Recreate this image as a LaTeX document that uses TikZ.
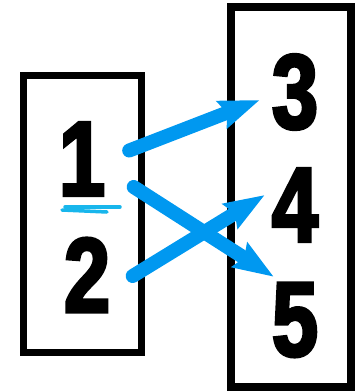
\documentclass[tikz,border=0pt]{standalone}
\usepackage{fontspec}
\usepackage{tikz}
\usetikzlibrary{arrows.meta,calc}
\newfontfamily\digitfont[FakeStretch=0.78,FakeBold=3]{Liberation Sans Bold}
\definecolor{arrowblue}{RGB}{0,152,240}
\definecolor{markcyan}{RGB}{24,182,236}

\begin{document}
\begin{tikzpicture}[x=1pt,y=-1pt,
    box/.style={draw=black, fill=white},
    digit/.style={inner sep=0pt, font=\digitfont\fontsize{106}{106}\selectfont},
    link/.style={arrowblue, line width=14pt, line cap=round,
        -{Stealth[length=40pt,width=28pt,inset=5pt]}}]
    \useasboundingbox (0,0) rectangle (356,391);
    % Boxes
    \node[box, line width=7pt, minimum width=118pt, minimum height=277pt] (left) at (82.5,214) {};
    \node[box, line width=8pt, minimum width=119.5pt, minimum height=380pt] (right) at (290.75,196.5) {};
    % Numbers
    \node[digit] (n1) at (82,159) {1};
    \node[digit] (n2) at (87,275) {2};
    \node[digit] (n3) at (295,92) {3};
    \node[digit] (n4) at (295,205) {4};
    \node[digit] (n5) at (295,320) {5};
    % Underline under the 1
    \draw[markcyan, line width=3.5pt, line cap=round] (62,210) -- (107,212);
    \draw[markcyan, line width=3.5pt, line cap=round] (65,207) -- (120,207);
    % Arrows
    \draw[link] ($(n1.east)+(24,-8.5)$) -- ($(n3.west)+(-12,8)$);
    \draw[link] ($(n1.east)+(28.5,28)$) -- ($(n5.north west)+(2,-6)$);
    \draw[link] ($(n2.east)+(22.5,1)$) -- ($(n4.west)+(-7,-10)$);
\end{tikzpicture}
\end{document}
